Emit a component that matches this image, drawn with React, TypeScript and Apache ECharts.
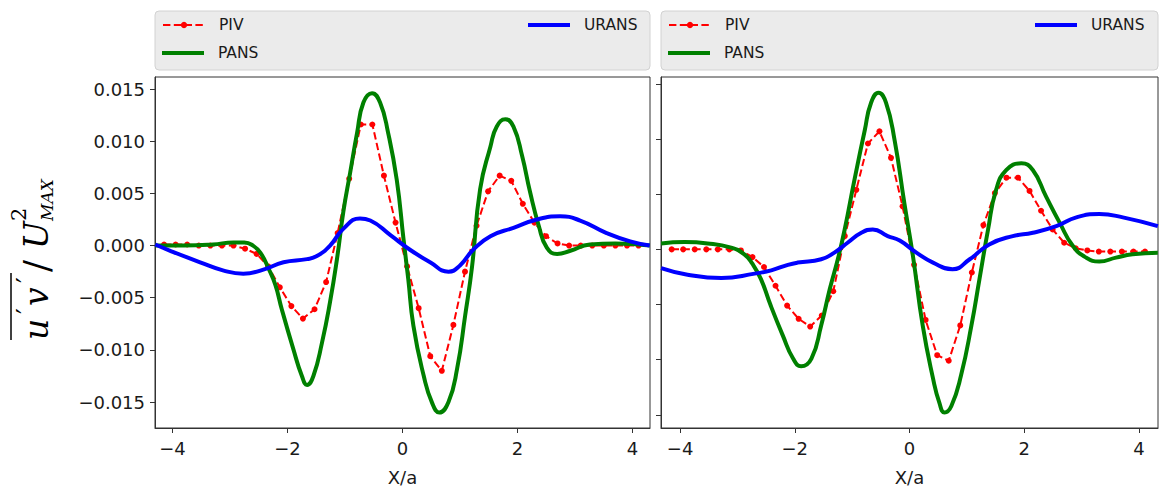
import React, { useEffect, useRef } from "react";
import * as echarts from "echarts";

const xTicks = [-4, -2, 0, 2, 4];
const yTicks = [-0.015, -0.01, -0.005, 0, 0.005, 0.01, 0.015];
const seriesNames = ["PIV", "PANS", "URANS"];

// PIV measurement stations (X/a)
const pivX = [
  -4.147, -3.946, -3.745, -3.543, -3.342, -3.141, -2.94, -2.738, -2.537, -2.336, -2.134,
  -1.933, -1.732, -1.53, -1.329, -1.128, -0.927, -0.725, -0.524, -0.323, -0.121, 0.08,
  0.281, 0.483, 0.684, 0.885, 1.087, 1.288, 1.489, 1.69, 1.892, 2.093, 2.294, 2.496,
  2.697, 2.898, 3.1, 3.301, 3.502, 3.703, 3.905, 4.106,
];

const pivLeft = [
  0.0001, 0.0001, 0.0001, 0.0, 0.0, 0.0, 0.0, -0.0003, -0.0008, -0.002, -0.004,
  -0.0058, -0.007, -0.0061, -0.0035, 0.0012, 0.0064, 0.0116, 0.0116, 0.0067, 0.0022, -0.002,
  -0.006, -0.0106, -0.012, -0.0076, -0.0025, 0.0019, 0.0052, 0.0067, 0.0062, 0.004, 0.0022, 0.0009,
  0.0002, 0.0, 0.0, 0.0, 0.0, 0.0, 0.0, 0.0,
];

const pivRight = [
  0.0, 0.0, 0.0, 0.0, 0.0, 0.0, -0.0001, -0.0007, -0.0016, -0.0033, -0.0051,
  -0.0063, -0.007, -0.006, -0.0038, 0.0012, 0.0054, 0.0096, 0.0107, 0.0083, 0.0039, -0.0014,
  -0.0064, -0.0096, -0.0101, -0.0069, -0.0021, 0.0022, 0.0051, 0.0065, 0.0065, 0.0053, 0.0035, 0.0018,
  0.0006, 0.0001, -0.0001, -0.0002, -0.0002, -0.0002, -0.0002, -0.0002,
];

const pansLeft: [number, number][] = [
  [-4.3, 0.0], [-3.8, 0.0], [-3.3, 0.0001], [-2.94, 0.0003], [-2.75, 0.0003], [-2.6, 0.0],
  [-2.47, -0.0007], [-2.33, -0.0022], [-2.21, -0.0038], [-2.1, -0.0061], [-1.9, -0.0099],
  [-1.75, -0.0125], [-1.66, -0.01335], [-1.55, -0.0125], [-1.4, -0.0093], [-1.26, -0.0054],
  [-1.14, -0.0013], [-1.03, 0.0032], [-0.91, 0.007], [-0.79, 0.0108], [-0.68, 0.0137],
  [-0.53, 0.0146], [-0.39, 0.0137], [-0.25, 0.0108], [-0.1, 0.0063], [0.02, 0.0005],
  [0.1, -0.0032], [0.19, -0.0077], [0.37, -0.0125], [0.51, -0.015], [0.64, -0.016],
  [0.8, -0.015], [0.95, -0.0118], [1.09, -0.0067], [1.21, -0.002], [1.35, 0.0054],
  [1.53, 0.0095], [1.64, 0.0114], [1.79, 0.0121], [1.93, 0.0114], [2.08, 0.0086],
  [2.22, 0.0051], [2.37, 0.0019], [2.51, -0.0002], [2.69, -0.0008], [2.92, -0.0005],
  [3.26, 0.0001], [3.7, 0.0002], [4.3, 0.0],
];

const uransLeft: [number, number][] = [
  [-4.3, 0.0001], [-4.04, -0.0005], [-3.52, -0.0016], [-3.11, -0.0024], [-2.77, -0.0027],
  [-2.42, -0.0023], [-2.07, -0.0016], [-1.66, -0.0013], [-1.49, -0.001], [-1.26, 0.0],
  [-1.03, 0.0016], [-0.74, 0.0026], [-0.56, 0.0024], [-0.21, 0.001], [0.13, -0.0004],
  [0.48, -0.0016], [0.8, -0.0025], [1.0, -0.0019], [1.23, -0.0004], [1.53, 0.0009],
  [1.93, 0.0017], [2.34, 0.0025], [2.74, 0.0028], [3.09, 0.0024], [3.55, 0.0012],
  [3.96, 0.0004], [4.3, 0.0],
];

const pansRight: [number, number][] = [
  [-4.33, 0.00054], [-3.92, 0.00066], [-3.52, 0.00054], [-3.11, 0.00015], [-2.88, -0.00045],
  [-2.74, -0.0013], [-2.59, -0.0027], [-2.42, -0.0051], [-2.21, -0.0078], [-2.03, -0.0099],
  [-1.89, -0.0106], [-1.71, -0.0099], [-1.54, -0.0069], [-1.39, -0.0036], [-1.25, -0.0009],
  [-1.13, 0.0018], [-0.96, 0.0063], [-0.78, 0.0108], [-0.67, 0.0133], [-0.54, 0.0142],
  [-0.41, 0.0133], [-0.26, 0.0099], [-0.09, 0.0042], [0.06, -0.0006], [0.23, -0.0069],
  [0.41, -0.0117], [0.52, -0.0139], [0.61, -0.0148], [0.73, -0.0142], [0.9, -0.0114],
  [1.08, -0.0069], [1.22, -0.0027], [1.37, 0.0018], [1.51, 0.0054], [1.69, 0.0072],
  [1.95, 0.0078], [2.15, 0.0072], [2.38, 0.0048], [2.62, 0.0024], [2.85, 0.0003],
  [3.08, -0.00075], [3.31, -0.0011], [3.6, -0.00075], [3.89, -0.00045], [4.33, -0.0003],
];

const uransRight: [number, number][] = [
  [-4.33, -0.0017], [-3.87, -0.0023], [-3.28, -0.0026], [-2.7, -0.0022], [-2.41, -0.0019],
  [-2.12, -0.0014], [-1.95, -0.0012], [-1.54, -0.0009], [-1.31, -0.0003], [-1.08, 0.0006],
  [-0.84, 0.0015], [-0.64, 0.0018], [-0.38, 0.0012], [-0.17, 0.0008], [0.12, -0.0003],
  [0.41, -0.0012], [0.75, -0.0018], [1.05, -0.0009], [1.39, 0.00045], [1.8, 0.0012],
  [2.15, 0.0015], [2.56, 0.0021], [2.91, 0.0029], [3.31, 0.0032], [3.72, 0.0029],
  [4.33, 0.0021],
];

const FONT = "DejaVu Sans";
const AXIS_COLOR = "#333333";
const TEXT_COLOR = "#1a1a1a";

const fmtY = (v: number) => {
  const s = Math.abs(v).toFixed(3);
  return (v < -1e-9 ? "\u2212" : "") + s;
};
const fmtX = (v: number) => (v < 0 ? "\u2212" : "") + Math.abs(Math.round(v)).toString();

function makeXAxis(gridIndex: number, min: number, max: number) {
  return {
    type: "value",
    gridIndex,
    min,
    max,
    name: "X/a",
    nameLocation: "middle",
    nameGap: 40,
    nameTextStyle: { fontFamily: FONT, fontSize: 18, color: TEXT_COLOR },
    axisLine: { show: true, onZero: false, lineStyle: { color: AXIS_COLOR, width: 1 } },
    axisTick: { show: true, inside: false, length: 5, customValues: xTicks, lineStyle: { color: AXIS_COLOR } },
    axisLabel: {
      show: true,
      customValues: xTicks,
      formatter: fmtX,
      margin: 11,
      fontFamily: FONT,
      fontSize: 18,
      color: TEXT_COLOR,
    },
    splitLine: { show: false },
  };
}

function makeYAxis(gridIndex: number, min: number, max: number, showLabels: boolean) {
  return {
    type: "value",
    gridIndex,
    min,
    max,
    axisLine: { show: true, onZero: false, lineStyle: { color: AXIS_COLOR, width: 1 } },
    axisTick: { show: true, inside: false, length: 5, customValues: yTicks, lineStyle: { color: AXIS_COLOR } },
    axisLabel: {
      show: showLabels,
      customValues: yTicks,
      formatter: fmtY,
      margin: 10,
      fontFamily: FONT,
      fontSize: 18,
      color: TEXT_COLOR,
    },
    splitLine: { show: false },
  };
}

function pivSeries(idx: number, values: number[]) {
  return {
    name: seriesNames[0],
    type: "line",
    xAxisIndex: idx,
    yAxisIndex: idx,
    data: pivX.map((x, i) => [x, values[i]]),
    symbol: "circle",
    symbolSize: 6,
    showSymbol: true,
    itemStyle: { color: "#ff0000" },
    lineStyle: { color: "#ff0000", width: 2, type: [7.4, 3.4] },
    z: 2,
  };
}

function smoothSeries(name: string, idx: number, data: [number, number][], color: string, z: number) {
  return {
    name,
    type: "line",
    xAxisIndex: idx,
    yAxisIndex: idx,
    data,
    symbol: "none",
    smooth: 0.5,
    itemStyle: { color },
    lineStyle: { color, width: 4 },
    z,
  };
}

function legendItem(left: number, top: number, name: string, lineOnly: boolean) {
  return {
    left,
    top,
    padding: 0,
    orient: "horizontal",
    data: [lineOnly ? { name, icon: "rect" } : { name }],
    itemWidth: 42,
    itemHeight: lineOnly ? 4 : 8,
    selectedMode: false,
    textStyle: { fontFamily: FONT, fontSize: 15.5, color: TEXT_COLOR, padding: [0, 0, 0, 9] },
  };
}

export default function App() {
  const ref = useRef<HTMLDivElement>(null);

  useEffect(() => {
    if (!ref.current) return;
    const chart = echarts.init(ref.current, undefined, { renderer: "svg" });

    const serif = "DejaVu Serif";
    const yLabel = {
      type: "group",
      x: 48,
      y: 262,
      rotation: Math.PI / 2,
      children: [
        {
          type: "text",
          x: -78,
          y: -12,
          style: { text: "u", fontFamily: serif, fontStyle: "italic", fontSize: 33, fill: "#000", verticalAlign: "middle", align: "left" },
        },
        {
          type: "text",
          x: -52,
          y: -22,
          style: { text: "\u2032", fontFamily: serif, fontSize: 26, fill: "#000", verticalAlign: "middle", align: "left" },
        },
        {
          type: "text",
          x: -44,
          y: -12,
          style: { text: "v", fontFamily: serif, fontStyle: "italic", fontSize: 33, fill: "#000", verticalAlign: "middle", align: "left" },
        },
        {
          type: "text",
          x: -21,
          y: -22,
          style: { text: "\u2032", fontFamily: serif, fontSize: 26, fill: "#000", verticalAlign: "middle", align: "left" },
        },
        {
          type: "line",
          shape: { x1: -78, y1: -37, x2: -11, y2: -37 },
          style: { stroke: "#000", lineWidth: 1.5 },
        },
        {
          type: "text",
          x: -10,
          y: -12,
          style: { text: "/", fontFamily: serif, fontSize: 36, fill: "#000", verticalAlign: "middle", align: "left" },
        },
        {
          type: "text",
          x: 13,
          y: -12,
          style: { text: "U", fontFamily: serif, fontStyle: "italic", fontSize: 33, fill: "#000", verticalAlign: "middle", align: "left" },
        },
        {
          type: "text",
          x: 41,
          y: -29,
          style: { text: "2", fontFamily: serif, fontSize: 21, fill: "#000", verticalAlign: "middle", align: "left" },
        },
        {
          type: "text",
          x: 41,
          y: -1,
          style: { text: "MAX", fontFamily: serif, fontStyle: "italic", fontSize: 17, fill: "#000", verticalAlign: "middle", align: "left" },
        },
      ],
    };

    const option = {
      animation: false,
      backgroundColor: "#ffffff",
      grid: [
        { left: 155, top: 77, width: 495, height: 352, show: true, borderColor: AXIS_COLOR, borderWidth: 1, backgroundColor: "transparent" },
        { left: 661, top: 77, width: 497, height: 352, show: true, borderColor: AXIS_COLOR, borderWidth: 1, backgroundColor: "transparent" },
      ],
      xAxis: [makeXAxis(0, -4.305, 4.305), makeXAxis(1, -4.333, 4.333)],
      yAxis: [makeYAxis(0, -0.01748, 0.01615, true), makeYAxis(1, -0.0162, 0.01563, false)],
      legend: [
        legendItem(162, 17, "PIV", false),
        legendItem(162, 45, "PANS", true),
        legendItem(528, 17, "URANS", true),
        legendItem(668, 17, "PIV", false),
        legendItem(668, 45, "PANS", true),
        legendItem(1035, 17, "URANS", true),
      ],
      graphic: [
        {
          type: "rect",
          shape: { x: 155, y: 11, width: 495, height: 59, r: 4 },
          style: { fill: "#ebebeb", stroke: "#d2d2d2", lineWidth: 1 },
          z: -10,
          silent: true,
        },
        {
          type: "rect",
          shape: { x: 661, y: 11, width: 497, height: 59, r: 4 },
          style: { fill: "#ebebeb", stroke: "#d2d2d2", lineWidth: 1 },
          z: -10,
          silent: true,
        },
        yLabel,
      ],
      series: [
        pivSeries(0, pivLeft),
        smoothSeries(seriesNames[1], 0, pansLeft, "#008000", 3),
        smoothSeries(seriesNames[2], 0, uransLeft, "#0000ff", 4),
        pivSeries(1, pivRight),
        smoothSeries(seriesNames[1], 1, pansRight, "#008000", 3),
        smoothSeries(seriesNames[2], 1, uransRight, "#0000ff", 4),
      ],
    };

    chart.setOption(option as any);
    return () => chart.dispose();
  }, []);

  return (
    <div
      ref={ref}
      style={{ position: "absolute", left: 0, top: 0, width: 1160, height: 491, background: "#fff" }}
    />
  );
}
